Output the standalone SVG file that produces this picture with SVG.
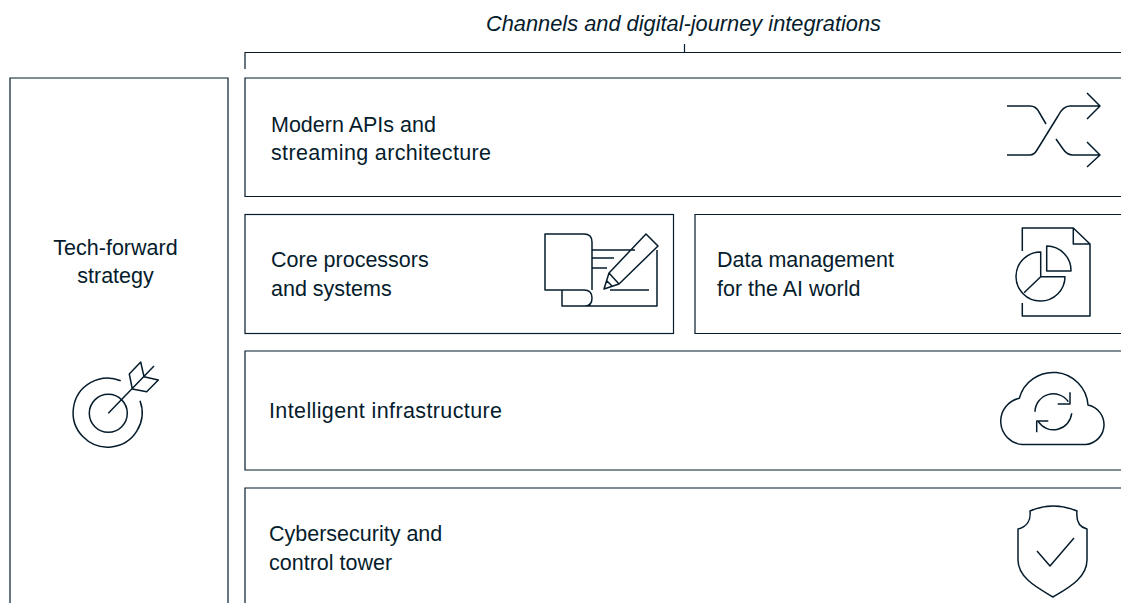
<svg xmlns="http://www.w3.org/2000/svg" width="1121" height="603" viewBox="0 0 1121 603">
<style>
.b{fill:none;stroke:#051c2c;stroke-width:1.2}
.i{fill:none;stroke:#051c2c;stroke-width:1.5;stroke-linejoin:round}
text{font-family:"Liberation Sans",Arial,sans-serif;font-size:21.500px;fill:#051c2c}
</style>
<rect width="1121" height="603" fill="#fff"/>
<g id="connectors"><path class="b" d="M245 69V52.500H1121M684.500 44V52"/></g>
<text x="486" y="31" font-style="italic" style="font-size:21.800px" textLength="395">Channels and digital-journey integrations</text>
<g id="strategy"><path class="b" d="M10 603V78H228V603"/>
<text x="115.500" y="254.500" text-anchor="middle">Tech-forward</text><text x="115.500" y="283" text-anchor="middle">strategy</text>
<g class="i"><path d="M120.700 380.700A34.500 34.500 0 1 0 140 400.700"/><circle cx="108.300" cy="413.300" r="19"/><path d="M108.300 413.300L154 366M132.300 389L129.300 374L140.700 362L144 376.700L158.300 380L146.700 391.700Z"/></g></g>
<g id="apis"><path class="b" d="M1121 78H245V196.500H1121"/>
<text x="271" y="131.500">Modern APIs and</text><text x="271" y="159.500" textLength="220">streaming architecture</text>
<path class="i" d="M1007 106H1030Q1036 106 1039 112L1046 124M1007 155H1030Q1034 155 1037 150L1058 116Q1063 106 1070 106H1100M1087 93L1100 106L1087 119M1056 139L1063 149Q1067 155 1073 155H1100M1087 142L1100 155L1087 167"/></g>
<g id="core"><rect class="b" x="245" y="214.500" width="428.500" height="119"/>
<text x="271" y="267">Core processors</text><text x="271" y="296">and systems</text>
<path class="i" d="M592 290V242Q592 234 584 234H545V290H584Q592 290 592 298Q592 306 585 306H562V290M585 306H657V250M592 250H635M592 258H614M592 268H607M610 290H649M604 289L609 273L646 234L658 246L619 284ZM609 273L619 284M607 281L612 286"/></g>
<g id="data"><path class="b" d="M1121 214.500H695V333.500H1121"/>
<text x="717" y="267">Data management</text><text x="717" y="296">for the AI world</text>
<path class="i" d="M1022.300 251V228H1073.300L1090 244V316H1022.300V303M1073.300 228V244H1090M1040.700 252A24.500 24.500 0 1 0 1065 276.700H1040.700ZM1040.700 276.700L1024 292.700M1046.700 246V271H1071A24.500 24.500 0 0 0 1046.700 246Z"/></g>
<g id="infra"><path class="b" d="M1121 351H245V470H1121"/>
<text x="269" y="418" textLength="233">Intelligent infrastructure</text>
<path class="i" d="M1022 444.500H1086A20 20 0 0 0 1088 405A35 35 0 0 0 1019.300 398.300A23.400 23.400 0 0 0 1022 444.500ZM1035 411.700A18.300 18.300 0 0 1 1068.300 401.700M1070 392.300V404H1057.700M1071.700 413.300A18.300 18.300 0 0 1 1038.300 421.700M1036.700 432.300V421H1048.300"/></g>
<g id="cyber"><path class="b" d="M1121 488H245V603"/>
<text x="269" y="541">Cybersecurity and</text><text x="269" y="570">control tower</text>
<path class="i" d="M1030 511Q1053 501 1077 511C1076 520 1079 527 1087 529V560C1087 578 1068 588 1053 597C1038 588 1018 578 1018 560V529C1027 527 1031 520 1030 511ZM1037 551L1050 566L1074 538"/></g>
</svg>
